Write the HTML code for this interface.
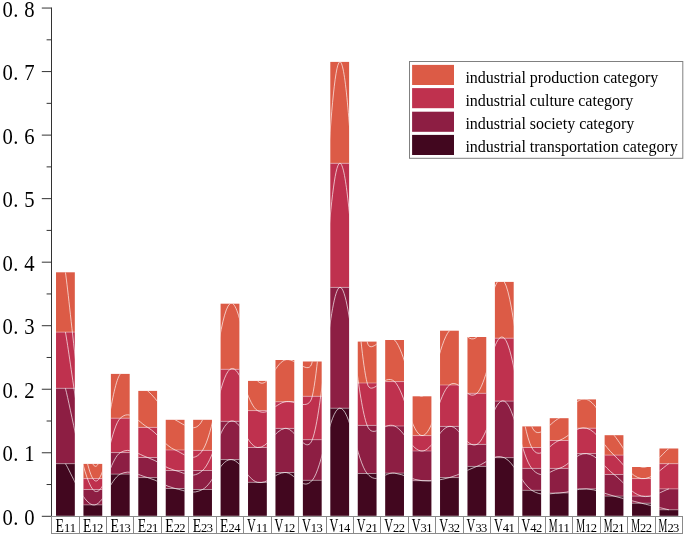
<!DOCTYPE html>
<html lang="en"><head><meta charset="utf-8"><title>Stacked bar chart</title>
<style>html,body{margin:0;padding:0;background:#fff}body{width:685px;height:537px;overflow:hidden}svg{display:block;will-change:transform}</style>
</head><body>
<svg width="685" height="537" viewBox="0 0 685 537">
<rect width="685" height="537" fill="#fff"/>
<defs><clipPath id="bars">
<rect x="56.02" y="272.30" width="18.8" height="243.50"/>
<rect x="83.44" y="463.90" width="18.8" height="51.90"/>
<rect x="110.88" y="373.90" width="18.8" height="141.90"/>
<rect x="138.30" y="390.90" width="18.8" height="124.90"/>
<rect x="165.73" y="419.80" width="18.8" height="96.00"/>
<rect x="193.16" y="419.80" width="18.8" height="96.00"/>
<rect x="220.59" y="303.70" width="18.8" height="212.10"/>
<rect x="248.03" y="380.90" width="18.8" height="134.90"/>
<rect x="275.46" y="360.00" width="18.8" height="155.80"/>
<rect x="302.88" y="361.50" width="18.8" height="154.30"/>
<rect x="330.31" y="61.90" width="18.8" height="453.90"/>
<rect x="357.75" y="341.60" width="18.8" height="174.20"/>
<rect x="385.18" y="340.00" width="18.8" height="175.80"/>
<rect x="412.61" y="396.30" width="18.8" height="119.50"/>
<rect x="440.04" y="330.70" width="18.8" height="185.10"/>
<rect x="467.47" y="337.00" width="18.8" height="178.80"/>
<rect x="494.89" y="281.90" width="18.8" height="233.90"/>
<rect x="522.33" y="426.40" width="18.8" height="89.40"/>
<rect x="549.75" y="418.20" width="18.8" height="97.60"/>
<rect x="577.19" y="399.40" width="18.8" height="116.40"/>
<rect x="604.62" y="435.20" width="18.8" height="80.60"/>
<rect x="632.05" y="467.00" width="18.8" height="48.80"/>
<rect x="659.48" y="448.50" width="18.8" height="67.30"/>
</clipPath></defs>
<g shape-rendering="auto">
<rect x="56.02" y="272.30" width="18.8" height="59.80" fill="#DC5B46"/>
<rect x="56.02" y="332.10" width="18.8" height="56.20" fill="#BF314E"/>
<rect x="56.02" y="388.30" width="18.8" height="75.40" fill="#8D1E43"/>
<rect x="56.02" y="463.70" width="18.8" height="52.10" fill="#42071F"/>
<rect x="83.44" y="463.90" width="18.8" height="14.70" fill="#DC5B46"/>
<rect x="83.44" y="478.60" width="18.8" height="10.90" fill="#BF314E"/>
<rect x="83.44" y="489.50" width="18.8" height="15.40" fill="#8D1E43"/>
<rect x="83.44" y="504.90" width="18.8" height="10.90" fill="#42071F"/>
<rect x="110.88" y="373.90" width="18.8" height="44.30" fill="#DC5B46"/>
<rect x="110.88" y="418.20" width="18.8" height="34.40" fill="#BF314E"/>
<rect x="110.88" y="452.60" width="18.8" height="21.50" fill="#8D1E43"/>
<rect x="110.88" y="474.10" width="18.8" height="41.70" fill="#42071F"/>
<rect x="138.30" y="390.90" width="18.8" height="36.50" fill="#DC5B46"/>
<rect x="138.30" y="427.40" width="18.8" height="30.10" fill="#BF314E"/>
<rect x="138.30" y="457.50" width="18.8" height="20.10" fill="#8D1E43"/>
<rect x="138.30" y="477.60" width="18.8" height="38.20" fill="#42071F"/>
<rect x="165.73" y="419.80" width="18.8" height="30.20" fill="#DC5B46"/>
<rect x="165.73" y="450.00" width="18.8" height="20.50" fill="#BF314E"/>
<rect x="165.73" y="470.50" width="18.8" height="18.00" fill="#8D1E43"/>
<rect x="165.73" y="488.50" width="18.8" height="27.30" fill="#42071F"/>
<rect x="193.16" y="419.80" width="18.8" height="30.60" fill="#DC5B46"/>
<rect x="193.16" y="450.40" width="18.8" height="20.10" fill="#BF314E"/>
<rect x="193.16" y="470.50" width="18.8" height="19.00" fill="#8D1E43"/>
<rect x="193.16" y="489.50" width="18.8" height="26.30" fill="#42071F"/>
<rect x="220.59" y="303.70" width="18.8" height="65.60" fill="#DC5B46"/>
<rect x="220.59" y="369.30" width="18.8" height="52.00" fill="#BF314E"/>
<rect x="220.59" y="421.30" width="18.8" height="38.30" fill="#8D1E43"/>
<rect x="220.59" y="459.60" width="18.8" height="56.20" fill="#42071F"/>
<rect x="248.03" y="380.90" width="18.8" height="29.70" fill="#DC5B46"/>
<rect x="248.03" y="410.60" width="18.8" height="36.90" fill="#BF314E"/>
<rect x="248.03" y="447.50" width="18.8" height="34.80" fill="#8D1E43"/>
<rect x="248.03" y="482.30" width="18.8" height="33.50" fill="#42071F"/>
<rect x="275.46" y="360.00" width="18.8" height="41.80" fill="#DC5B46"/>
<rect x="275.46" y="401.80" width="18.8" height="26.60" fill="#BF314E"/>
<rect x="275.46" y="428.40" width="18.8" height="44.10" fill="#8D1E43"/>
<rect x="275.46" y="472.50" width="18.8" height="43.30" fill="#42071F"/>
<rect x="302.88" y="361.50" width="18.8" height="34.80" fill="#DC5B46"/>
<rect x="302.88" y="396.30" width="18.8" height="43.40" fill="#BF314E"/>
<rect x="302.88" y="439.70" width="18.8" height="40.60" fill="#8D1E43"/>
<rect x="302.88" y="480.30" width="18.8" height="35.50" fill="#42071F"/>
<rect x="330.31" y="61.90" width="18.8" height="101.40" fill="#DC5B46"/>
<rect x="330.31" y="163.30" width="18.8" height="124.10" fill="#BF314E"/>
<rect x="330.31" y="287.40" width="18.8" height="120.80" fill="#8D1E43"/>
<rect x="330.31" y="408.20" width="18.8" height="107.60" fill="#42071F"/>
<rect x="357.75" y="341.60" width="18.8" height="41.40" fill="#DC5B46"/>
<rect x="357.75" y="383.00" width="18.8" height="42.40" fill="#BF314E"/>
<rect x="357.75" y="425.40" width="18.8" height="48.10" fill="#8D1E43"/>
<rect x="357.75" y="473.50" width="18.8" height="42.30" fill="#42071F"/>
<rect x="385.18" y="340.00" width="18.8" height="41.60" fill="#DC5B46"/>
<rect x="385.18" y="381.60" width="18.8" height="44.40" fill="#BF314E"/>
<rect x="385.18" y="426.00" width="18.8" height="47.10" fill="#8D1E43"/>
<rect x="385.18" y="473.10" width="18.8" height="42.70" fill="#42071F"/>
<rect x="412.61" y="396.30" width="18.8" height="39.30" fill="#DC5B46"/>
<rect x="412.61" y="435.60" width="18.8" height="15.40" fill="#BF314E"/>
<rect x="412.61" y="451.00" width="18.8" height="29.70" fill="#8D1E43"/>
<rect x="412.61" y="480.70" width="18.8" height="35.10" fill="#42071F"/>
<rect x="440.04" y="330.70" width="18.8" height="54.30" fill="#DC5B46"/>
<rect x="440.04" y="385.00" width="18.8" height="41.40" fill="#BF314E"/>
<rect x="440.04" y="426.40" width="18.8" height="51.20" fill="#8D1E43"/>
<rect x="440.04" y="477.60" width="18.8" height="38.20" fill="#42071F"/>
<rect x="467.47" y="337.00" width="18.8" height="56.30" fill="#DC5B46"/>
<rect x="467.47" y="393.30" width="18.8" height="51.10" fill="#BF314E"/>
<rect x="467.47" y="444.40" width="18.8" height="22.00" fill="#8D1E43"/>
<rect x="467.47" y="466.40" width="18.8" height="49.40" fill="#42071F"/>
<rect x="494.89" y="281.90" width="18.8" height="56.30" fill="#DC5B46"/>
<rect x="494.89" y="338.20" width="18.8" height="62.90" fill="#BF314E"/>
<rect x="494.89" y="401.10" width="18.8" height="56.60" fill="#8D1E43"/>
<rect x="494.89" y="457.70" width="18.8" height="58.10" fill="#42071F"/>
<rect x="522.33" y="426.40" width="18.8" height="21.10" fill="#DC5B46"/>
<rect x="522.33" y="447.50" width="18.8" height="20.90" fill="#BF314E"/>
<rect x="522.33" y="468.40" width="18.8" height="21.90" fill="#8D1E43"/>
<rect x="522.33" y="490.30" width="18.8" height="25.50" fill="#42071F"/>
<rect x="549.75" y="418.20" width="18.8" height="22.30" fill="#DC5B46"/>
<rect x="549.75" y="440.50" width="18.8" height="27.90" fill="#BF314E"/>
<rect x="549.75" y="468.40" width="18.8" height="24.60" fill="#8D1E43"/>
<rect x="549.75" y="493.00" width="18.8" height="22.80" fill="#42071F"/>
<rect x="577.19" y="399.40" width="18.8" height="28.80" fill="#DC5B46"/>
<rect x="577.19" y="428.20" width="18.8" height="25.40" fill="#BF314E"/>
<rect x="577.19" y="453.60" width="18.8" height="35.30" fill="#8D1E43"/>
<rect x="577.19" y="488.90" width="18.8" height="26.90" fill="#42071F"/>
<rect x="604.62" y="435.20" width="18.8" height="19.90" fill="#DC5B46"/>
<rect x="604.62" y="455.10" width="18.8" height="19.40" fill="#BF314E"/>
<rect x="604.62" y="474.50" width="18.8" height="21.60" fill="#8D1E43"/>
<rect x="604.62" y="496.10" width="18.8" height="19.70" fill="#42071F"/>
<rect x="632.05" y="467.00" width="18.8" height="11.60" fill="#DC5B46"/>
<rect x="632.05" y="478.60" width="18.8" height="17.50" fill="#BF314E"/>
<rect x="632.05" y="496.10" width="18.8" height="7.10" fill="#8D1E43"/>
<rect x="632.05" y="503.20" width="18.8" height="12.60" fill="#42071F"/>
<rect x="659.48" y="448.50" width="18.8" height="15.20" fill="#DC5B46"/>
<rect x="659.48" y="463.70" width="18.8" height="25.20" fill="#BF314E"/>
<rect x="659.48" y="488.90" width="18.8" height="20.90" fill="#8D1E43"/>
<rect x="659.48" y="509.80" width="18.8" height="6.00" fill="#42071F"/>
</g>
<g stroke="#fff" stroke-opacity="0.55" stroke-width="0.7">
<line x1="56.02" x2="74.82" y1="332.10" y2="332.10"/>
<line x1="56.02" x2="74.82" y1="388.30" y2="388.30"/>
<line x1="56.02" x2="74.82" y1="463.70" y2="463.70"/>
<line x1="83.44" x2="102.24" y1="478.60" y2="478.60"/>
<line x1="83.44" x2="102.24" y1="489.50" y2="489.50"/>
<line x1="83.44" x2="102.24" y1="504.90" y2="504.90"/>
<line x1="110.88" x2="129.68" y1="418.20" y2="418.20"/>
<line x1="110.88" x2="129.68" y1="452.60" y2="452.60"/>
<line x1="110.88" x2="129.68" y1="474.10" y2="474.10"/>
<line x1="138.30" x2="157.10" y1="427.40" y2="427.40"/>
<line x1="138.30" x2="157.10" y1="457.50" y2="457.50"/>
<line x1="138.30" x2="157.10" y1="477.60" y2="477.60"/>
<line x1="165.73" x2="184.53" y1="450.00" y2="450.00"/>
<line x1="165.73" x2="184.53" y1="470.50" y2="470.50"/>
<line x1="165.73" x2="184.53" y1="488.50" y2="488.50"/>
<line x1="193.16" x2="211.97" y1="450.40" y2="450.40"/>
<line x1="193.16" x2="211.97" y1="470.50" y2="470.50"/>
<line x1="193.16" x2="211.97" y1="489.50" y2="489.50"/>
<line x1="220.59" x2="239.40" y1="369.30" y2="369.30"/>
<line x1="220.59" x2="239.40" y1="421.30" y2="421.30"/>
<line x1="220.59" x2="239.40" y1="459.60" y2="459.60"/>
<line x1="248.03" x2="266.82" y1="410.60" y2="410.60"/>
<line x1="248.03" x2="266.82" y1="447.50" y2="447.50"/>
<line x1="248.03" x2="266.82" y1="482.30" y2="482.30"/>
<line x1="275.46" x2="294.26" y1="401.80" y2="401.80"/>
<line x1="275.46" x2="294.26" y1="428.40" y2="428.40"/>
<line x1="275.46" x2="294.26" y1="472.50" y2="472.50"/>
<line x1="302.88" x2="321.69" y1="396.30" y2="396.30"/>
<line x1="302.88" x2="321.69" y1="439.70" y2="439.70"/>
<line x1="302.88" x2="321.69" y1="480.30" y2="480.30"/>
<line x1="330.31" x2="349.12" y1="163.30" y2="163.30"/>
<line x1="330.31" x2="349.12" y1="287.40" y2="287.40"/>
<line x1="330.31" x2="349.12" y1="408.20" y2="408.20"/>
<line x1="357.75" x2="376.55" y1="383.00" y2="383.00"/>
<line x1="357.75" x2="376.55" y1="425.40" y2="425.40"/>
<line x1="357.75" x2="376.55" y1="473.50" y2="473.50"/>
<line x1="385.18" x2="403.98" y1="381.60" y2="381.60"/>
<line x1="385.18" x2="403.98" y1="426.00" y2="426.00"/>
<line x1="385.18" x2="403.98" y1="473.10" y2="473.10"/>
<line x1="412.61" x2="431.41" y1="435.60" y2="435.60"/>
<line x1="412.61" x2="431.41" y1="451.00" y2="451.00"/>
<line x1="412.61" x2="431.41" y1="480.70" y2="480.70"/>
<line x1="440.04" x2="458.84" y1="385.00" y2="385.00"/>
<line x1="440.04" x2="458.84" y1="426.40" y2="426.40"/>
<line x1="440.04" x2="458.84" y1="477.60" y2="477.60"/>
<line x1="467.47" x2="486.27" y1="393.30" y2="393.30"/>
<line x1="467.47" x2="486.27" y1="444.40" y2="444.40"/>
<line x1="467.47" x2="486.27" y1="466.40" y2="466.40"/>
<line x1="494.89" x2="513.69" y1="338.20" y2="338.20"/>
<line x1="494.89" x2="513.69" y1="401.10" y2="401.10"/>
<line x1="494.89" x2="513.69" y1="457.70" y2="457.70"/>
<line x1="522.33" x2="541.12" y1="447.50" y2="447.50"/>
<line x1="522.33" x2="541.12" y1="468.40" y2="468.40"/>
<line x1="522.33" x2="541.12" y1="490.30" y2="490.30"/>
<line x1="549.75" x2="568.55" y1="440.50" y2="440.50"/>
<line x1="549.75" x2="568.55" y1="468.40" y2="468.40"/>
<line x1="549.75" x2="568.55" y1="493.00" y2="493.00"/>
<line x1="577.19" x2="595.99" y1="428.20" y2="428.20"/>
<line x1="577.19" x2="595.99" y1="453.60" y2="453.60"/>
<line x1="577.19" x2="595.99" y1="488.90" y2="488.90"/>
<line x1="604.62" x2="623.41" y1="455.10" y2="455.10"/>
<line x1="604.62" x2="623.41" y1="474.50" y2="474.50"/>
<line x1="604.62" x2="623.41" y1="496.10" y2="496.10"/>
<line x1="632.05" x2="650.85" y1="478.60" y2="478.60"/>
<line x1="632.05" x2="650.85" y1="496.10" y2="496.10"/>
<line x1="632.05" x2="650.85" y1="503.20" y2="503.20"/>
<line x1="659.48" x2="678.27" y1="463.70" y2="463.70"/>
<line x1="659.48" x2="678.27" y1="488.90" y2="488.90"/>
<line x1="659.48" x2="678.27" y1="509.80" y2="509.80"/>
</g>
<g clip-path="url(#bars)" fill="none" stroke="#fff" stroke-width="0.7" stroke-opacity="0.95">
<path d="M65.42,272.30C70.49,307.75 82.70,445.10 92.84,463.90C102.99,482.70 110.13,387.40 120.28,373.90C130.42,360.39 137.56,382.41 147.70,390.90C157.85,399.39 164.99,414.45 175.13,419.80C185.28,425.15 195.53,434.68 202.56,419.80C212.71,398.32 219.85,310.90 230.00,303.70C240.14,296.50 247.28,370.48 257.43,380.90C267.57,391.32 274.71,363.59 284.86,360.00C295.00,356.41 309.30,377.71 312.28,361.50C322.43,306.35 329.57,65.58 339.71,61.90C349.86,58.22 357.00,290.15 367.14,341.60C370.34,357.77 384.43,329.88 394.57,340.00C404.72,350.12 411.86,398.02 422.00,396.30C432.15,394.58 439.29,341.67 449.44,330.70C459.58,319.73 466.72,346.03 476.87,337.00C487.01,327.97 494.15,265.36 504.29,281.90C514.44,298.44 521.58,401.18 531.73,426.40C538.14,442.34 549.01,423.19 559.15,418.20C569.30,413.20 576.44,396.25 586.59,399.40C596.73,402.54 603.87,422.69 614.01,435.20C624.16,447.71 631.30,464.54 641.45,467.00C651.59,469.46 663.80,451.92 668.88,448.50"/>
<path d="M65.42,332.10C70.49,359.20 82.70,462.67 92.84,478.60C102.99,494.53 110.13,427.67 120.28,418.20C130.42,408.73 137.56,421.52 147.70,427.40C157.85,433.28 164.99,445.75 175.13,450.00C185.28,454.25 193.31,464.01 202.56,450.40C212.71,435.47 219.85,376.66 230.00,369.30C240.14,361.94 247.28,404.59 257.43,410.60C267.57,416.61 274.71,404.45 284.86,401.80C295.00,399.15 308.52,412.66 312.28,396.30C322.43,352.18 329.57,165.76 339.71,163.30C349.86,160.84 357.00,342.61 367.14,383.00C371.16,398.98 384.43,371.87 394.57,381.60C404.72,391.33 411.86,434.97 422.00,435.60C432.15,436.23 439.29,392.83 449.44,385.00C459.58,377.17 466.72,401.96 476.87,393.30C487.01,384.64 494.15,328.17 504.29,338.20C514.44,348.23 521.58,428.57 531.73,447.50C539.75,462.47 549.01,444.07 559.15,440.50C569.30,436.93 576.44,425.50 586.59,428.20C596.73,430.90 603.87,445.78 614.01,455.10C624.16,464.42 631.30,477.01 641.45,478.60C651.59,480.19 663.80,466.46 668.88,463.70"/>
<path d="M65.42,388.30C70.49,407.02 82.70,477.60 92.84,489.50C102.99,501.40 110.13,458.52 120.28,452.60C130.42,446.68 137.56,454.19 147.70,457.50C157.85,460.81 164.99,468.10 175.13,470.50C185.28,472.90 192.42,479.60 202.56,470.50C212.71,461.40 219.85,425.56 230.00,421.30C240.14,417.05 247.28,446.19 257.43,447.50C267.57,448.81 274.71,429.84 284.86,428.40C295.00,426.96 305.83,456.29 312.28,439.70C322.43,413.62 329.57,290.05 339.71,287.40C349.86,284.75 357.00,399.76 367.14,425.40C373.20,440.71 384.43,421.26 394.57,426.00C404.72,430.74 411.86,450.93 422.00,451.00C432.15,451.07 439.29,427.62 449.44,426.40C459.58,425.18 466.72,449.08 476.87,444.40C487.01,439.72 494.15,396.66 504.29,401.10C514.44,405.54 521.58,455.95 531.73,468.40C541.87,480.85 549.01,471.14 559.15,468.40C569.30,465.66 576.44,452.47 586.59,453.60C596.73,454.73 603.87,466.64 614.01,474.50C624.16,482.36 631.30,493.44 641.45,496.10C651.59,498.76 663.80,490.23 668.88,488.90"/>
<path d="M65.42,463.70C70.49,471.32 82.70,502.98 92.84,504.90C102.99,506.82 110.13,479.15 120.28,474.10C130.42,469.05 137.56,474.94 147.70,477.60C157.85,480.26 164.99,486.30 175.13,488.50C185.28,490.70 192.42,494.85 202.56,489.50C212.71,484.15 219.85,460.93 230.00,459.60C240.14,458.27 247.28,479.91 257.43,482.30C267.57,484.69 274.71,472.87 284.86,472.50C295.00,472.13 302.14,492.20 312.28,480.30C322.43,468.40 329.57,409.46 339.71,408.20C349.86,406.94 357.00,461.49 367.14,473.50C377.29,485.51 384.43,471.77 394.57,473.10C404.72,474.43 411.86,479.87 422.00,480.70C432.15,481.53 439.29,480.25 449.44,477.60C459.58,474.95 466.72,470.08 476.87,466.40C487.01,462.72 494.15,453.28 504.29,457.70C514.44,462.12 521.58,483.77 531.73,490.30C541.87,496.83 549.01,493.26 559.15,493.00C569.30,492.74 576.44,488.33 586.59,488.90C596.73,489.47 603.87,493.45 614.01,496.10C624.16,498.75 631.30,500.67 641.45,503.20C651.59,505.73 663.80,508.58 668.88,509.80"/>
</g>
<g stroke="#333" stroke-width="1">
<line x1="51.5" x2="51.5" y1="7.55" y2="516.8"/>
<line x1="41.8" x2="51.5" y1="516.30" y2="516.30"/>
<line x1="46.6" x2="51.5" y1="484.53" y2="484.53"/>
<line x1="41.8" x2="51.5" y1="452.77" y2="452.77"/>
<line x1="46.6" x2="51.5" y1="421.00" y2="421.00"/>
<line x1="41.8" x2="51.5" y1="389.24" y2="389.24"/>
<line x1="46.6" x2="51.5" y1="357.47" y2="357.47"/>
<line x1="41.8" x2="51.5" y1="325.71" y2="325.71"/>
<line x1="46.6" x2="51.5" y1="293.94" y2="293.94"/>
<line x1="41.8" x2="51.5" y1="262.18" y2="262.18"/>
<line x1="46.6" x2="51.5" y1="230.41" y2="230.41"/>
<line x1="41.8" x2="51.5" y1="198.65" y2="198.65"/>
<line x1="46.6" x2="51.5" y1="166.88" y2="166.88"/>
<line x1="41.8" x2="51.5" y1="135.12" y2="135.12"/>
<line x1="46.6" x2="51.5" y1="103.35" y2="103.35"/>
<line x1="41.8" x2="51.5" y1="71.59" y2="71.59"/>
<line x1="46.6" x2="51.5" y1="39.82" y2="39.82"/>
<line x1="41.8" x2="51.5" y1="8.06" y2="8.06"/>
</g>
<g class="t" font-family="'Liberation Serif', serif" font-size="22.5" fill="#000" text-anchor="middle" transform="scale(0.92,1)">
<text x="8.37 17.23 31.90" y="525.00">0.0</text>
<text x="8.37 17.23 31.90" y="461.47">0.1</text>
<text x="8.37 17.23 31.90" y="397.94">0.2</text>
<text x="8.37 17.23 31.90" y="334.41">0.3</text>
<text x="8.37 17.23 31.90" y="270.88">0.4</text>
<text x="8.37 17.23 31.90" y="207.35">0.5</text>
<text x="8.37 17.23 31.90" y="143.82">0.6</text>
<text x="8.37 17.23 31.90" y="80.29">0.7</text>
<text x="8.37 17.23 31.90" y="16.76">0.8</text>
</g>
<g stroke="#8a8a8a" stroke-width="1" fill="none">
<path d="M51,516.5H683.0M51,533.5H683.0"/>
<line x1="51.5" x2="51.5" y1="516.5" y2="533.5"/>
<line x1="79.5" x2="79.5" y1="516.5" y2="533.5"/>
<line x1="106.5" x2="106.5" y1="516.5" y2="533.5"/>
<line x1="133.5" x2="133.5" y1="516.5" y2="533.5"/>
<line x1="161.5" x2="161.5" y1="516.5" y2="533.5"/>
<line x1="188.5" x2="188.5" y1="516.5" y2="533.5"/>
<line x1="216.5" x2="216.5" y1="516.5" y2="533.5"/>
<line x1="243.5" x2="243.5" y1="516.5" y2="533.5"/>
<line x1="271.5" x2="271.5" y1="516.5" y2="533.5"/>
<line x1="298.5" x2="298.5" y1="516.5" y2="533.5"/>
<line x1="326.5" x2="326.5" y1="516.5" y2="533.5"/>
<line x1="353.5" x2="353.5" y1="516.5" y2="533.5"/>
<line x1="380.5" x2="380.5" y1="516.5" y2="533.5"/>
<line x1="408.5" x2="408.5" y1="516.5" y2="533.5"/>
<line x1="435.5" x2="435.5" y1="516.5" y2="533.5"/>
<line x1="463.5" x2="463.5" y1="516.5" y2="533.5"/>
<line x1="490.5" x2="490.5" y1="516.5" y2="533.5"/>
<line x1="518.5" x2="518.5" y1="516.5" y2="533.5"/>
<line x1="545.5" x2="545.5" y1="516.5" y2="533.5"/>
<line x1="572.5" x2="572.5" y1="516.5" y2="533.5"/>
<line x1="600.5" x2="600.5" y1="516.5" y2="533.5"/>
<line x1="627.5" x2="627.5" y1="516.5" y2="533.5"/>
<line x1="655.5" x2="655.5" y1="516.5" y2="533.5"/>
<line x1="682.5" x2="682.5" y1="516.5" y2="533.5"/>
</g>
<g class="t" font-family="'Liberation Serif', serif" fill="#000">
<text y="531.7" font-size="18.4"><tspan x="55.52" textLength="8.4" lengthAdjust="spacingAndGlyphs">E</tspan><tspan font-size="12.5" text-anchor="middle" x="67.07 72.77">11</tspan></text>
<text y="531.7" font-size="18.4"><tspan x="82.94" textLength="8.4" lengthAdjust="spacingAndGlyphs">E</tspan><tspan font-size="12.5" text-anchor="middle" x="94.50 100.19">12</tspan></text>
<text y="531.7" font-size="18.4"><tspan x="110.38" textLength="8.4" lengthAdjust="spacingAndGlyphs">E</tspan><tspan font-size="12.5" text-anchor="middle" x="121.93 127.62">13</tspan></text>
<text y="531.7" font-size="18.4"><tspan x="137.80" textLength="8.4" lengthAdjust="spacingAndGlyphs">E</tspan><tspan font-size="12.5" text-anchor="middle" x="149.35 155.05">21</tspan></text>
<text y="531.7" font-size="18.4"><tspan x="165.23" textLength="8.4" lengthAdjust="spacingAndGlyphs">E</tspan><tspan font-size="12.5" text-anchor="middle" x="176.78 182.48">22</tspan></text>
<text y="531.7" font-size="18.4"><tspan x="192.66" textLength="8.4" lengthAdjust="spacingAndGlyphs">E</tspan><tspan font-size="12.5" text-anchor="middle" x="204.22 209.91">23</tspan></text>
<text y="531.7" font-size="18.4"><tspan x="220.09" textLength="8.4" lengthAdjust="spacingAndGlyphs">E</tspan><tspan font-size="12.5" text-anchor="middle" x="231.65 237.34">24</tspan></text>
<text y="531.7" font-size="18.4"><tspan x="247.12" textLength="8.8" lengthAdjust="spacingAndGlyphs">V</tspan><tspan font-size="12.5" text-anchor="middle" x="259.07 264.78">11</tspan></text>
<text y="531.7" font-size="18.4"><tspan x="274.56" textLength="8.8" lengthAdjust="spacingAndGlyphs">V</tspan><tspan font-size="12.5" text-anchor="middle" x="286.50 292.21">12</tspan></text>
<text y="531.7" font-size="18.4"><tspan x="301.98" textLength="8.8" lengthAdjust="spacingAndGlyphs">V</tspan><tspan font-size="12.5" text-anchor="middle" x="313.93 319.63">13</tspan></text>
<text y="531.7" font-size="18.4"><tspan x="329.41" textLength="8.8" lengthAdjust="spacingAndGlyphs">V</tspan><tspan font-size="12.5" text-anchor="middle" x="341.36 347.06">14</tspan></text>
<text y="531.7" font-size="18.4"><tspan x="356.84" textLength="8.8" lengthAdjust="spacingAndGlyphs">V</tspan><tspan font-size="12.5" text-anchor="middle" x="368.79 374.50">21</tspan></text>
<text y="531.7" font-size="18.4"><tspan x="384.27" textLength="8.8" lengthAdjust="spacingAndGlyphs">V</tspan><tspan font-size="12.5" text-anchor="middle" x="396.22 401.93">22</tspan></text>
<text y="531.7" font-size="18.4"><tspan x="411.70" textLength="8.8" lengthAdjust="spacingAndGlyphs">V</tspan><tspan font-size="12.5" text-anchor="middle" x="423.65 429.36">31</tspan></text>
<text y="531.7" font-size="18.4"><tspan x="439.13" textLength="8.8" lengthAdjust="spacingAndGlyphs">V</tspan><tspan font-size="12.5" text-anchor="middle" x="451.08 456.79">32</tspan></text>
<text y="531.7" font-size="18.4"><tspan x="466.56" textLength="8.8" lengthAdjust="spacingAndGlyphs">V</tspan><tspan font-size="12.5" text-anchor="middle" x="478.51 484.22">33</tspan></text>
<text y="531.7" font-size="18.4"><tspan x="493.99" textLength="8.8" lengthAdjust="spacingAndGlyphs">V</tspan><tspan font-size="12.5" text-anchor="middle" x="505.94 511.64">41</tspan></text>
<text y="531.7" font-size="18.4"><tspan x="521.43" textLength="8.8" lengthAdjust="spacingAndGlyphs">V</tspan><tspan font-size="12.5" text-anchor="middle" x="533.38 539.08">42</tspan></text>
<text y="531.7" font-size="18.4"><tspan x="548.86" textLength="8.8" lengthAdjust="spacingAndGlyphs">M</tspan><tspan font-size="12.5" text-anchor="middle" x="560.80 566.50">11</tspan></text>
<text y="531.7" font-size="18.4"><tspan x="576.29" textLength="8.8" lengthAdjust="spacingAndGlyphs">M</tspan><tspan font-size="12.5" text-anchor="middle" x="588.24 593.94">12</tspan></text>
<text y="531.7" font-size="18.4"><tspan x="603.72" textLength="8.8" lengthAdjust="spacingAndGlyphs">M</tspan><tspan font-size="12.5" text-anchor="middle" x="615.66 621.37">21</tspan></text>
<text y="531.7" font-size="18.4"><tspan x="631.15" textLength="8.8" lengthAdjust="spacingAndGlyphs">M</tspan><tspan font-size="12.5" text-anchor="middle" x="643.10 648.80">22</tspan></text>
<text y="531.7" font-size="18.4"><tspan x="658.58" textLength="8.8" lengthAdjust="spacingAndGlyphs">M</tspan><tspan font-size="12.5" text-anchor="middle" x="670.52 676.23">23</tspan></text>
</g>
<rect x="409.5" y="61.5" width="273.3" height="96.8" fill="#fff" stroke="#808080" stroke-width="1"/>
<rect x="412.1" y="64.9" width="41.9" height="20.1" fill="#DC5B46"/>
<rect x="412.1" y="88.1" width="41.9" height="20.1" fill="#BF314E"/>
<rect x="412.1" y="111.7" width="41.9" height="20.1" fill="#8D1E43"/>
<rect x="412.1" y="134.9" width="41.9" height="20.1" fill="#42071F"/>
<g class="t" font-family="'Liberation Serif', serif" font-size="16" fill="#000">
<text x="465.4" y="82.5">industrial production category</text>
<text x="465.4" y="105.5">industrial culture category</text>
<text x="465.4" y="128.9">industrial society category</text>
<text x="465.4" y="152.2">industrial transportation category</text>
</g>
</svg>
</body></html>
